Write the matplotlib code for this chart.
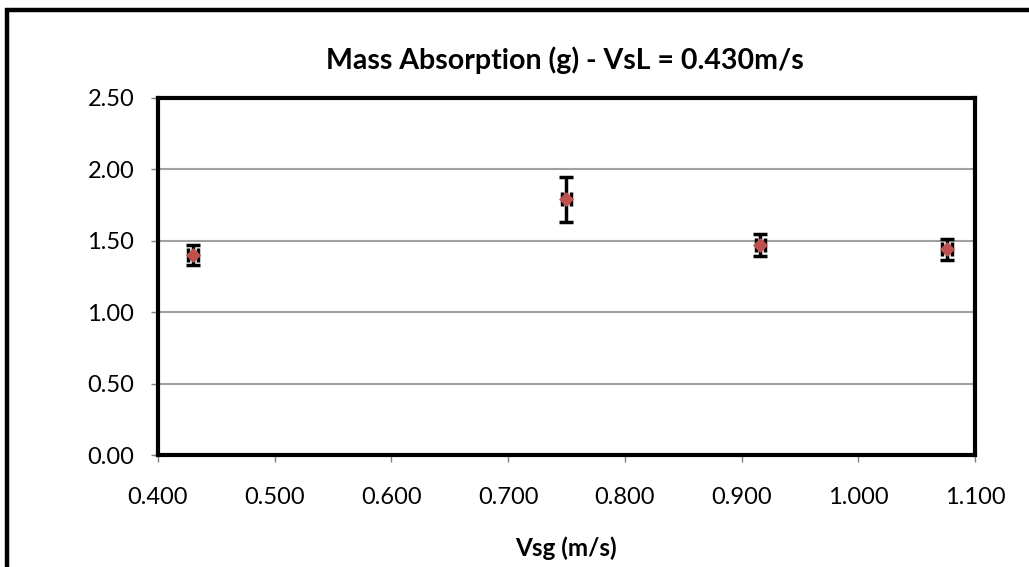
import matplotlib.pyplot as plt
from matplotlib.patches import Rectangle

# Data
vsg = [0.430, 0.750, 0.916, 1.076]
mass = [1.40, 1.79, 1.47, 1.44]
mass_err = [0.07, 0.155, 0.075, 0.075]
vsg_err = [0.004, 0.004, 0.004, 0.004]

x_ticks = [0.4, 0.5, 0.6, 0.7, 0.8, 0.9, 1.0, 1.1]
y_ticks = [0.0, 0.5, 1.0, 1.5, 2.0, 2.5]

plt.rcParams['font.family'] = ['Lato', 'DejaVu Sans']

fig = plt.figure(figsize=(10.29, 5.67), dpi=100)
ax = fig.add_axes([158 / 1029, 1 - 455 / 567, (975 - 158) / 1029, (455 - 98) / 567])

# Outer chart border (only left and top visible in the crop)
fig.patches.append(Rectangle((7 / 1029, -0.2), 1.2, 1.2 - 9.5 / 567,
                             transform=fig.transFigure, fill=False,
                             edgecolor='black', linewidth=3.2, zorder=0))

ax.errorbar(vsg, mass, yerr=mass_err, xerr=vsg_err, fmt='none',
            ecolor='black', elinewidth=2.5, capsize=5, capthick=2.5, zorder=3)
ax.scatter(vsg, mass, marker='D', s=45, color='#C0504D', zorder=4)

ax.set_xlim(0.4, 1.1)
ax.set_ylim(0, 2.5)
ax.set_xticks(x_ticks)
ax.set_yticks(y_ticks)
ax.set_xticklabels([f'{v:.3f}' for v in x_ticks], fontsize=17)
ax.set_yticklabels([f'{v:.2f}' for v in y_ticks], fontsize=17)
ax.tick_params(axis='both', color='#808080', length=5, width=1)
ax.tick_params(axis='x', pad=18)
ax.tick_params(axis='y', pad=12)

ax.grid(axis='y', color='#a0a0a0', linewidth=1.5)
ax.set_axisbelow(True)
for s in ax.spines.values():
    s.set_linewidth(3)
    s.set_color('black')

fig.text(565 / 1029, 1 - 60 / 567, 'Mass Absorption (g) - VsL = 0.430m/s',
         ha='center', va='center', fontsize=20.5, fontweight='bold')
fig.text(566 / 1029, 1 - 548 / 567, 'Vsg (m/s)', ha='center', va='center',
         fontsize=17.5, fontweight='bold')

fig.savefig('out.png', dpi=100)
